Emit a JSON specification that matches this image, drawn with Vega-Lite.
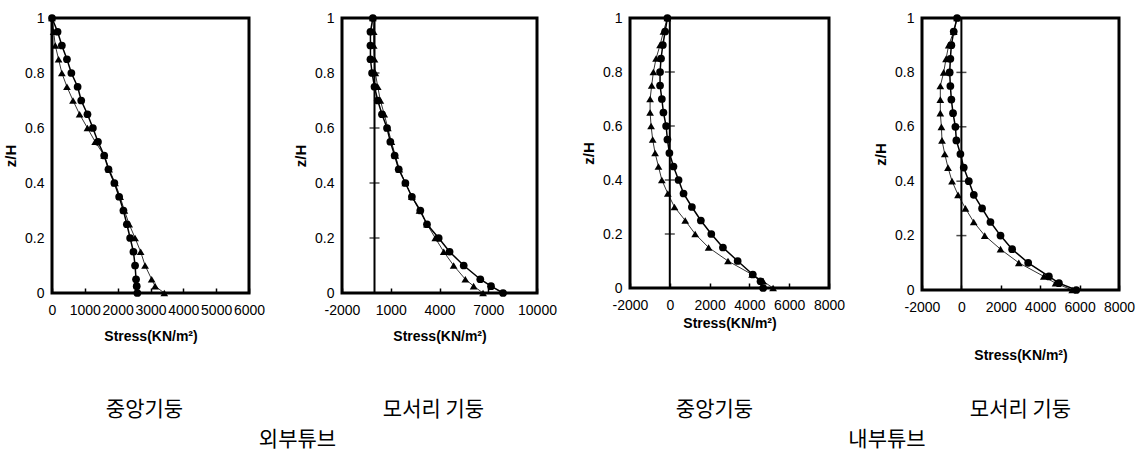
{
  "$schema": "https://vega.github.io/schema/vega-lite/v6.json",
  "background": "white",
  "padding": {"left": 2, "top": 9, "right": 0, "bottom": 0},
  "config": {
    "view": {"stroke": "black", "strokeWidth": 3},
    "axis": {
      "grid": false, "domain": false,
      "labelFont": "Liberation Sans", "labelFontSize": 14, "labelColor": "black",
      "titleFont": "Liberation Sans", "titleFontSize": 14, "titleFontWeight": "bold", "titleColor": "black",
      "labelOverlap": false, "labelBound": false, "labelFlush": false, "tickCount": 20
    },
    "axisX": {"tickSize": -5, "tickColor": "black", "tickWidth": 1.5, "labelPadding": 15},
    "axisY": {"ticks": false, "labelPadding": 8, "titlePadding": 6, "titleFontSize": 15}
  },
  "data": {"name": "stress"},
  "datasets": {
    "stress": [
      {"panel":1,"series":"circle","z":1,"stress":0},{"panel":1,"series":"circle","z":0.95,"stress":170},{"panel":1,"series":"circle","z":0.9,"stress":300},{"panel":1,"series":"circle","z":0.85,"stress":455},{"panel":1,"series":"circle","z":0.8,"stress":590},{"panel":1,"series":"circle","z":0.75,"stress":780},{"panel":1,"series":"circle","z":0.7,"stress":890},{"panel":1,"series":"circle","z":0.65,"stress":1080},{"panel":1,"series":"circle","z":0.6,"stress":1245},{"panel":1,"series":"circle","z":0.55,"stress":1400},{"panel":1,"series":"circle","z":0.5,"stress":1590},{"panel":1,"series":"circle","z":0.45,"stress":1720},{"panel":1,"series":"circle","z":0.4,"stress":1900},{"panel":1,"series":"circle","z":0.35,"stress":2045},{"panel":1,"series":"circle","z":0.3,"stress":2175},{"panel":1,"series":"circle","z":0.25,"stress":2280},{"panel":1,"series":"circle","z":0.2,"stress":2380},{"panel":1,"series":"circle","z":0.15,"stress":2480},{"panel":1,"series":"circle","z":0.1,"stress":2530},{"panel":1,"series":"circle","z":0.05,"stress":2560},{"panel":1,"series":"circle","z":0.025,"stress":2580},{"panel":1,"series":"circle","z":0,"stress":2600},
      {"panel":1,"series":"triangle","z":1,"stress":0},{"panel":1,"series":"triangle","z":0.95,"stress":50},{"panel":1,"series":"triangle","z":0.9,"stress":100},{"panel":1,"series":"triangle","z":0.85,"stress":200},{"panel":1,"series":"triangle","z":0.8,"stress":300},{"panel":1,"series":"triangle","z":0.75,"stress":455},{"panel":1,"series":"triangle","z":0.7,"stress":640},{"panel":1,"series":"triangle","z":0.65,"stress":840},{"panel":1,"series":"triangle","z":0.6,"stress":1080},{"panel":1,"series":"triangle","z":0.55,"stress":1315},{"panel":1,"series":"triangle","z":0.5,"stress":1590},{"panel":1,"series":"triangle","z":0.45,"stress":1740},{"panel":1,"series":"triangle","z":0.4,"stress":1920},{"panel":1,"series":"triangle","z":0.35,"stress":2075},{"panel":1,"series":"triangle","z":0.3,"stress":2205},{"panel":1,"series":"triangle","z":0.25,"stress":2350},{"panel":1,"series":"triangle","z":0.2,"stress":2530},{"panel":1,"series":"triangle","z":0.15,"stress":2700},{"panel":1,"series":"triangle","z":0.1,"stress":2835},{"panel":1,"series":"triangle","z":0.05,"stress":3035},{"panel":1,"series":"triangle","z":0.025,"stress":3140},{"panel":1,"series":"triangle","z":0,"stress":3420},
      {"panel":2,"series":"circle","z":1,"stress":-100},{"panel":2,"series":"circle","z":0.95,"stress":-250},{"panel":2,"series":"circle","z":0.9,"stress":-250},{"panel":2,"series":"circle","z":0.85,"stress":-250},{"panel":2,"series":"circle","z":0.8,"stress":-150},{"panel":2,"series":"circle","z":0.75,"stress":0},{"panel":2,"series":"circle","z":0.7,"stress":200},{"panel":2,"series":"circle","z":0.65,"stress":460},{"panel":2,"series":"circle","z":0.6,"stress":770},{"panel":2,"series":"circle","z":0.55,"stress":975},{"panel":2,"series":"circle","z":0.5,"stress":1240},{"panel":2,"series":"circle","z":0.45,"stress":1490},{"panel":2,"series":"circle","z":0.4,"stress":1900},{"panel":2,"series":"circle","z":0.35,"stress":2300},{"panel":2,"series":"circle","z":0.3,"stress":2820},{"panel":2,"series":"circle","z":0.25,"stress":3230},{"panel":2,"series":"circle","z":0.2,"stress":3950},{"panel":2,"series":"circle","z":0.15,"stress":4620},{"panel":2,"series":"circle","z":0.1,"stress":5490},{"panel":2,"series":"circle","z":0.05,"stress":6510},{"panel":2,"series":"circle","z":0.025,"stress":7170},{"panel":2,"series":"circle","z":0,"stress":7910},
      {"panel":2,"series":"triangle","z":1,"stress":-100},{"panel":2,"series":"triangle","z":0.95,"stress":-50},{"panel":2,"series":"triangle","z":0.9,"stress":-50},{"panel":2,"series":"triangle","z":0.85,"stress":0},{"panel":2,"series":"triangle","z":0.8,"stress":50},{"panel":2,"series":"triangle","z":0.75,"stress":200},{"panel":2,"series":"triangle","z":0.7,"stress":360},{"panel":2,"series":"triangle","z":0.65,"stress":600},{"panel":2,"series":"triangle","z":0.6,"stress":820},{"panel":2,"series":"triangle","z":0.55,"stress":1040},{"panel":2,"series":"triangle","z":0.5,"stress":1280},{"panel":2,"series":"triangle","z":0.45,"stress":1530},{"panel":2,"series":"triangle","z":0.4,"stress":1900},{"panel":2,"series":"triangle","z":0.35,"stress":2300},{"panel":2,"series":"triangle","z":0.3,"stress":2770},{"panel":2,"series":"triangle","z":0.25,"stress":3230},{"panel":2,"series":"triangle","z":0.2,"stress":3740},{"panel":2,"series":"triangle","z":0.15,"stress":4260},{"panel":2,"series":"triangle","z":0.1,"stress":4870},{"panel":2,"series":"triangle","z":0.05,"stress":5590},{"panel":2,"series":"triangle","z":0.025,"stress":6100},{"panel":2,"series":"triangle","z":0,"stress":6680},
      {"panel":3,"series":"circle","z":1,"stress":-120},{"panel":3,"series":"circle","z":0.95,"stress":-235},{"panel":3,"series":"circle","z":0.9,"stress":-350},{"panel":3,"series":"circle","z":0.85,"stress":-440},{"panel":3,"series":"circle","z":0.8,"stress":-490},{"panel":3,"series":"circle","z":0.75,"stress":-490},{"panel":3,"series":"circle","z":0.7,"stress":-400},{"panel":3,"series":"circle","z":0.65,"stress":-320},{"panel":3,"series":"circle","z":0.6,"stress":-185},{"panel":3,"series":"circle","z":0.55,"stress":-120},{"panel":3,"series":"circle","z":0.5,"stress":-20},{"panel":3,"series":"circle","z":0.45,"stress":185},{"panel":3,"series":"circle","z":0.4,"stress":440},{"panel":3,"series":"circle","z":0.35,"stress":690},{"panel":3,"series":"circle","z":0.3,"stress":1110},{"panel":3,"series":"circle","z":0.25,"stress":1560},{"panel":3,"series":"circle","z":0.2,"stress":2085},{"panel":3,"series":"circle","z":0.15,"stress":2670},{"panel":3,"series":"circle","z":0.1,"stress":3410},{"panel":3,"series":"circle","z":0.05,"stress":4170},{"panel":3,"series":"circle","z":0.025,"stress":4560},{"panel":3,"series":"circle","z":0,"stress":4690},
      {"panel":3,"series":"triangle","z":1,"stress":-120},{"panel":3,"series":"triangle","z":0.95,"stress":-320},{"panel":3,"series":"triangle","z":0.9,"stress":-490},{"panel":3,"series":"triangle","z":0.85,"stress":-690},{"panel":3,"series":"triangle","z":0.8,"stress":-825},{"panel":3,"series":"triangle","z":0.75,"stress":-910},{"panel":3,"series":"triangle","z":0.7,"stress":-990},{"panel":3,"series":"triangle","z":0.65,"stress":-990},{"panel":3,"series":"triangle","z":0.6,"stress":-940},{"panel":3,"series":"triangle","z":0.55,"stress":-860},{"panel":3,"series":"triangle","z":0.5,"stress":-740},{"panel":3,"series":"triangle","z":0.45,"stress":-570},{"panel":3,"series":"triangle","z":0.4,"stress":-400},{"panel":3,"series":"triangle","z":0.35,"stress":-100},{"panel":3,"series":"triangle","z":0.3,"stress":235},{"panel":3,"series":"triangle","z":0.25,"stress":775},{"panel":3,"series":"triangle","z":0.2,"stress":1275},{"panel":3,"series":"triangle","z":0.15,"stress":1950},{"panel":3,"series":"triangle","z":0.1,"stress":2925},{"panel":3,"series":"triangle","z":0.05,"stress":4135},{"panel":3,"series":"triangle","z":0.025,"stress":4690},{"panel":3,"series":"triangle","z":0,"stress":5190},
      {"panel":4,"series":"circle","z":1,"stress":-220},{"panel":4,"series":"circle","z":0.95,"stress":-390},{"panel":4,"series":"circle","z":0.9,"stress":-510},{"panel":4,"series":"circle","z":0.85,"stress":-560},{"panel":4,"series":"circle","z":0.8,"stress":-595},{"panel":4,"series":"circle","z":0.75,"stress":-560},{"panel":4,"series":"circle","z":0.7,"stress":-510},{"panel":4,"series":"circle","z":0.65,"stress":-425},{"panel":4,"series":"circle","z":0.6,"stress":-305},{"panel":4,"series":"circle","z":0.55,"stress":-255},{"panel":4,"series":"circle","z":0.5,"stress":-50},{"panel":4,"series":"circle","z":0.45,"stress":120},{"panel":4,"series":"circle","z":0.4,"stress":375},{"panel":4,"series":"circle","z":0.35,"stress":630},{"panel":4,"series":"circle","z":0.3,"stress":1050},{"panel":4,"series":"circle","z":0.25,"stress":1475},{"panel":4,"series":"circle","z":0.2,"stress":1985},{"panel":4,"series":"circle","z":0.15,"stress":2575},{"panel":4,"series":"circle","z":0.1,"stress":3390},{"panel":4,"series":"circle","z":0.05,"stress":4440},{"panel":4,"series":"circle","z":0.025,"stress":4950},{"panel":4,"series":"circle","z":0,"stress":5830},
      {"panel":4,"series":"triangle","z":1,"stress":-220},{"panel":4,"series":"triangle","z":0.95,"stress":-390},{"panel":4,"series":"triangle","z":0.9,"stress":-645},{"panel":4,"series":"triangle","z":0.85,"stress":-780},{"panel":4,"series":"triangle","z":0.8,"stress":-900},{"panel":4,"series":"triangle","z":0.75,"stress":-1070},{"panel":4,"series":"triangle","z":0.7,"stress":-1070},{"panel":4,"series":"triangle","z":0.65,"stress":-1070},{"panel":4,"series":"triangle","z":0.6,"stress":-1015},{"panel":4,"series":"triangle","z":0.55,"stress":-985},{"panel":4,"series":"triangle","z":0.5,"stress":-845},{"panel":4,"series":"triangle","z":0.45,"stress":-680},{"panel":4,"series":"triangle","z":0.4,"stress":-475},{"panel":4,"series":"triangle","z":0.35,"stress":-170},{"panel":4,"series":"triangle","z":0.3,"stress":205},{"panel":4,"series":"triangle","z":0.25,"stress":625},{"panel":4,"series":"triangle","z":0.2,"stress":1185},{"panel":4,"series":"triangle","z":0.15,"stress":1985},{"panel":4,"series":"triangle","z":0.1,"stress":2915},{"panel":4,"series":"triangle","z":0.05,"stress":4185},{"panel":4,"series":"triangle","z":0.025,"stress":4780},{"panel":4,"series":"triangle","z":0,"stress":5625}
    ],
    "crossTicks": [{"stress":0,"z":0.2},{"stress":0,"z":0.4},{"stress":0,"z":0.6},{"stress":0,"z":0.8}],
    "zeroLine": [{"stress":0}]
  },
  "spacing": 33,
  "vconcat": [
    {
      "hconcat": [
        {
          "width": 197, "height": 275,
          "layer": [
            {"transform":[{"filter":"datum.panel==1 && datum.series=='circle'"}],"mark":{"type":"line","color":"black","strokeWidth":1.5},
             "encoding":{"x":{"field":"stress","type":"quantitative","scale":{"domain":[0,6000],"nice":false,"zero":false},"axis":{"values":[0,1000,2000,3000,4000,5000,6000],"tickCount":20,"labelExpr":"'' + datum.value","labelOverlap":false,"title":"Stress(KN/m²)","titlePadding":12}},
                         "y":{"field":"z","type":"quantitative","scale":{"domain":[0,1],"nice":false},"axis":{"values":[0,0.2,0.4,0.6,0.8,1],"tickCount":20,"format":"~g","labelOverlap":false,"title":"z/H"}},
                         "order":{"field":"z"}}},
            {"transform":[{"filter":"datum.panel==1 && datum.series=='triangle'"}],"mark":{"type":"line","color":"black","strokeWidth":0.8},
             "encoding":{"x":{"field":"stress","type":"quantitative"},"y":{"field":"z","type":"quantitative"},"order":{"field":"z"}}},
            {"transform":[{"filter":"datum.panel==1"}],"mark":{"type":"point","filled":true,"color":"black","size":60,"opacity":1},
             "encoding":{"x":{"field":"stress","type":"quantitative"},"y":{"field":"z","type":"quantitative"},
                         "shape":{"field":"series","type":"nominal","scale":{"domain":["circle","triangle"],"range":["circle","triangle-up"]},"legend":null}}}
          ]
        },
        {
          "width": 195, "height": 275,
          "layer": [
            {"data":{"name":"zeroLine"},"mark":{"type":"rule","color":"black","strokeWidth":2},
             "encoding":{"x":{"field":"stress","type":"quantitative","scale":{"domain":[-2000,10000],"nice":false,"zero":false},"axis":{"values":[-2000,1000,4000,7000,10000],"tickCount":20,"labelExpr":"'' + datum.value","labelOverlap":false,"title":"Stress(KN/m²)","titlePadding":12}}}},
            {"data":{"name":"crossTicks"},"mark":{"type":"tick","orient":"horizontal","color":"black","size":10,"thickness":1.5},
             "encoding":{"x":{"field":"stress","type":"quantitative"},"y":{"field":"z","type":"quantitative","scale":{"domain":[0,1],"nice":false},"axis":{"values":[0,0.2,0.4,0.6,0.8,1],"tickCount":20,"format":"~g","labelOverlap":false,"title":"z/H"}}}},
            {"transform":[{"filter":"datum.panel==2 && datum.series=='circle'"}],"mark":{"type":"line","color":"black","strokeWidth":1.5},
             "encoding":{"x":{"field":"stress","type":"quantitative"},"y":{"field":"z","type":"quantitative"},"order":{"field":"z"}}},
            {"transform":[{"filter":"datum.panel==2 && datum.series=='triangle'"}],"mark":{"type":"line","color":"black","strokeWidth":0.8},
             "encoding":{"x":{"field":"stress","type":"quantitative"},"y":{"field":"z","type":"quantitative"},"order":{"field":"z"}}},
            {"transform":[{"filter":"datum.panel==2"}],"mark":{"type":"point","filled":true,"color":"black","size":60,"opacity":1},
             "encoding":{"x":{"field":"stress","type":"quantitative"},"y":{"field":"z","type":"quantitative"},
                         "shape":{"field":"series","type":"nominal","scale":{"domain":["circle","triangle"],"range":["circle","triangle-up"]},"legend":null}}}
          ]
        },
        {
          "width": 199, "height": 270,
          "layer": [
            {"data":{"name":"zeroLine"},"mark":{"type":"rule","color":"black","strokeWidth":2},
             "encoding":{"x":{"field":"stress","type":"quantitative","scale":{"domain":[-2000,8000],"nice":false,"zero":false},"axis":{"values":[-2000,0,2000,4000,6000,8000],"tickCount":20,"labelExpr":"'' + datum.value","labelOverlap":false,"title":"Stress(KN/m²)","titlePadding":4}}}},
            {"data":{"name":"crossTicks"},"mark":{"type":"tick","orient":"horizontal","color":"black","size":10,"thickness":1.5},
             "encoding":{"x":{"field":"stress","type":"quantitative"},"y":{"field":"z","type":"quantitative","scale":{"domain":[0,1],"nice":false},"axis":{"values":[0,0.2,0.4,0.6,0.8,1],"tickCount":20,"format":"~g","labelOverlap":false,"title":"z/H"}}}},
            {"transform":[{"filter":"datum.panel==3 && datum.series=='circle'"}],"mark":{"type":"line","color":"black","strokeWidth":1.5},
             "encoding":{"x":{"field":"stress","type":"quantitative"},"y":{"field":"z","type":"quantitative"},"order":{"field":"z"}}},
            {"transform":[{"filter":"datum.panel==3 && datum.series=='triangle'"}],"mark":{"type":"line","color":"black","strokeWidth":0.8},
             "encoding":{"x":{"field":"stress","type":"quantitative"},"y":{"field":"z","type":"quantitative"},"order":{"field":"z"}}},
            {"transform":[{"filter":"datum.panel==3"}],"mark":{"type":"point","filled":true,"color":"black","size":60,"opacity":1},
             "encoding":{"x":{"field":"stress","type":"quantitative"},"y":{"field":"z","type":"quantitative"},
                         "shape":{"field":"series","type":"nominal","scale":{"domain":["circle","triangle"],"range":["circle","triangle-up"]},"legend":null}}}
          ]
        },
        {
          "width": 197, "height": 272,
          "layer": [
            {"data":{"name":"zeroLine"},"mark":{"type":"rule","color":"black","strokeWidth":2},
             "encoding":{"x":{"field":"stress","type":"quantitative","scale":{"domain":[-2000,8000],"nice":false,"zero":false},"axis":{"values":[-2000,0,2000,4000,6000,8000],"tickCount":20,"labelExpr":"'' + datum.value","labelOverlap":false,"title":"Stress(KN/m²)","titlePadding":34}}}},
            {"data":{"name":"crossTicks"},"mark":{"type":"tick","orient":"horizontal","color":"black","size":10,"thickness":1.5},
             "encoding":{"x":{"field":"stress","type":"quantitative"},"y":{"field":"z","type":"quantitative","scale":{"domain":[0,1],"nice":false},"axis":{"values":[0,0.2,0.4,0.6,0.8,1],"tickCount":20,"format":"~g","labelOverlap":false,"title":"z/H"}}}},
            {"transform":[{"filter":"datum.panel==4 && datum.series=='circle'"}],"mark":{"type":"line","color":"black","strokeWidth":1.5},
             "encoding":{"x":{"field":"stress","type":"quantitative"},"y":{"field":"z","type":"quantitative"},"order":{"field":"z"}}},
            {"transform":[{"filter":"datum.panel==4 && datum.series=='triangle'"}],"mark":{"type":"line","color":"black","strokeWidth":0.8},
             "encoding":{"x":{"field":"stress","type":"quantitative"},"y":{"field":"z","type":"quantitative"},"order":{"field":"z"}}},
            {"transform":[{"filter":"datum.panel==4"}],"mark":{"type":"point","filled":true,"color":"black","size":60,"opacity":1},
             "encoding":{"x":{"field":"stress","type":"quantitative"},"y":{"field":"z","type":"quantitative"},
                         "shape":{"field":"series","type":"nominal","scale":{"domain":["circle","triangle"],"range":["circle","triangle-up"]},"legend":null}}}
          ]
        }
      ],
      "spacing": 93,
      "bounds": "flush"
    },
    {
      "spacing": 4,
      "vconcat": [
        {
          "spacing": 93,
          "hconcat": [
            {"width":197,"height":26,"view":{"stroke":null},"data":{"values":[{"label":"중앙기둥"}]},"mark":{"type":"text","font":"Noto Sans CJK KR","fontSize":21,"color":"black","dx":-6},"encoding":{"text":{"field":"label","type":"nominal"}}},
            {"width":195,"height":26,"view":{"stroke":null},"data":{"values":[{"label":"모서리 기둥"}]},"mark":{"type":"text","font":"Noto Sans CJK KR","fontSize":21,"color":"black","dx":-6},"encoding":{"text":{"field":"label","type":"nominal"}}},
            {"width":199,"height":26,"view":{"stroke":null},"data":{"values":[{"label":"중앙기둥"}]},"mark":{"type":"text","font":"Noto Sans CJK KR","fontSize":21,"color":"black","dx":-15},"encoding":{"text":{"field":"label","type":"nominal"}}},
            {"width":197,"height":26,"view":{"stroke":null},"data":{"values":[{"label":"모서리 기둥"}]},"mark":{"type":"text","font":"Noto Sans CJK KR","fontSize":21,"color":"black","dx":0},"encoding":{"text":{"field":"label","type":"nominal"}}}
          ]
        },
        {
          "spacing": 93,
          "hconcat": [
            {"width":485,"height":26,"view":{"stroke":null},"data":{"values":[{"label":"외부튜브"}]},"mark":{"type":"text","font":"Noto Sans CJK KR","fontSize":21,"color":"black","dx":3},"encoding":{"text":{"field":"label","type":"nominal"}}},
            {"width":490,"height":26,"view":{"stroke":null},"data":{"values":[{"label":"내부튜브"}]},"mark":{"type":"text","font":"Noto Sans CJK KR","fontSize":21,"color":"black","dx":12},"encoding":{"text":{"field":"label","type":"nominal"}}}
          ]
        }
      ]
    }
  ]
}
